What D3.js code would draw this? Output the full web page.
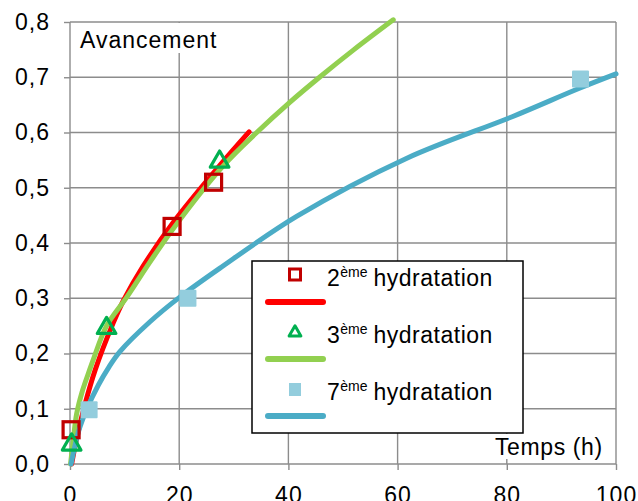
<!DOCTYPE html>
<html>
<head>
<meta charset="utf-8">
<script src="https://cdn.jsdelivr.net/npm/d3@7"></script>
<style>
  body { margin: 0; background: #fff; }
  text { font-family: "Liberation Sans", Arial, sans-serif; fill: #000; }
</style>
</head>
<body>
<div id="chart"></div>
<script>
const width = 638,
  height = 501,
  margin = { left: 70, right: 22, top: 22, bottom: 37 };

// tick values
const xTicks = [0, 20, 40, 60, 80, 100];
const yTicks = [0, 0.1, 0.2, 0.3, 0.4, 0.5, 0.6, 0.7, 0.8];

// measured points
const pts2T = [0.2, 18.7, 26.3];
const pts2V = [0.062, 0.43, 0.51];
const pts3T = [0.3, 6.7, 27.4];
const pts3V = [0.035, 0.246, 0.547];
const pts7T = [3.5, 21.6, 93.5];
const pts7V = [0.098, 0.3, 0.697];

// fitted curves
const fit2T = [0.3, 1.3, 2.8, 4.6, 7.9, 9.75, 13.4, 18.9, 27.4, 32.8];
const fit2V = [0, 0.05, 0.11, 0.17, 0.255, 0.295, 0.358, 0.437, 0.54, 0.601];
const fit3T = [0.1, 0.6, 1.2, 2.2, 3.4, 4.3, 6.7, 10.4, 14.6, 18.9, 28.1, 34.2, 40.3, 45.7, 52, 59.2];
const fit3V = [0, 0.043, 0.09, 0.13, 0.165, 0.19, 0.25, 0.302, 0.365, 0.426, 0.54, 0.6, 0.655, 0.7, 0.75, 0.804];
const fit7T = [0.2, 1.6, 3.1, 5.2, 7.1, 9.1, 14.6, 20.1, 27.4, 41.5, 61.6, 81.1, 93.3, 100];
const fit7V = [0, 0.06, 0.1, 0.143, 0.175, 0.203, 0.257, 0.302, 0.354, 0.448, 0.553, 0.629, 0.68, 0.706];

const legendNames = ["2", "3", "7"];

const xScale = d3.scaleLinear().domain([0, 100]).range([margin.left, width - margin.right]);
const yScale = d3.scaleLinear().domain([0, 0.8]).range([height - margin.bottom, margin.top]);

const gridColor = "#8c8c8c";
const fmt = (d) => d3.format(".1f")(d).replace(".", ",");

const svg = d3
  .select("#chart")
  .append("svg")
  .attr("width", width)
  .attr("height", height);

// grid
svg
  .append("g")
  .selectAll("line")
  .data(xTicks)
  .enter()
  .append("line")
  .attr("x1", (d) => xScale(d))
  .attr("x2", (d) => xScale(d))
  .attr("y1", yScale(0.8))
  .attr("y2", yScale(0))
  .attr("stroke", gridColor)
  .attr("stroke-width", 1.4);

svg
  .append("g")
  .selectAll("line")
  .data(yTicks)
  .enter()
  .append("line")
  .attr("x1", xScale(0))
  .attr("x2", xScale(100))
  .attr("y1", (d) => yScale(d))
  .attr("y2", (d) => yScale(d))
  .attr("stroke", gridColor)
  .attr("stroke-width", 1.4);

// axes
const xAxis = svg
  .append("g")
  .attr("transform", `translate(0,${yScale(0)})`)
  .call(d3.axisBottom(xScale).tickValues(xTicks).tickSize(6).tickSizeOuter(0).tickPadding(17));

const yAxis = svg
  .append("g")
  .attr("transform", `translate(${xScale(0)},0)`)
  .call(d3.axisLeft(yScale).tickValues(yTicks).tickSize(6).tickSizeOuter(0).tickPadding(14).tickFormat(fmt));

[xAxis, yAxis].forEach((ax) => {
  ax.select(".domain").remove();
  ax.selectAll("line").attr("stroke", gridColor).attr("stroke-width", 1.4);
  ax.selectAll("text")
    .attr("font-size", 23)
    .attr("letter-spacing", "1px")
    .attr("font-family", null)
    .attr("fill", "#000");
});

// axis titles on white boxes
svg.append("rect").attr("x", 75).attr("y", 23).attr("width", 146).attr("height", 30).attr("fill", "#fff");
svg
  .append("text")
  .attr("x", 80)
  .attr("y", 47.5)
  .attr("font-size", 23)
  .attr("letter-spacing", "1px")
  .text("Avancement");

svg.append("rect").attr("x", 490).attr("y", 434).attr("width", 120).attr("height", 25).attr("fill", "#fff");
svg
  .append("text")
  .attr("x", 495)
  .attr("y", 455)
  .attr("font-size", 23)
  .attr("letter-spacing", "0.6px")
  .text("Temps (h)");

// curves
const line = d3
  .line()
  .x((d) => xScale(d[0]))
  .y((d) => yScale(d[1]))
  .curve(d3.curveCatmullRom.alpha(0.5));

const curves = [
  { pts: d3.zip(fit2T, fit2V), color: "#ff0000" },
  { pts: d3.zip(fit3T, fit3V), color: "#92d050" },
  { pts: d3.zip(fit7T, fit7V), color: "#4bacc6" },
];

svg
  .append("g")
  .selectAll("path")
  .data(curves)
  .enter()
  .append("path")
  .attr("d", (d) => line(d.pts))
  .attr("fill", "none")
  .attr("stroke", (d) => d.color)
  .attr("stroke-width", 5)
  .attr("stroke-linecap", "round");

// markers
svg
  .append("g")
  .selectAll("rect")
  .data(d3.zip(pts2T, pts2V))
  .enter()
  .append("rect")
  .attr("x", (d) => xScale(d[0]) - 8)
  .attr("y", (d) => yScale(d[1]) - 8)
  .attr("width", 16)
  .attr("height", 16)
  .attr("fill", "none")
  .attr("stroke", "#c00000")
  .attr("stroke-width", 3.2);

const tri = d3.symbol().type(d3.symbolTriangle).size(150);
svg
  .append("g")
  .selectAll("path")
  .data(d3.zip(pts3T, pts3V))
  .enter()
  .append("path")
  .attr("transform", (d) => `translate(${xScale(d[0])},${yScale(d[1])})`)
  .attr("d", tri)
  .attr("fill", "none")
  .attr("stroke", "#00b050")
  .attr("stroke-width", 3.2)
  .attr("stroke-linejoin", "round");

svg
  .append("g")
  .selectAll("rect")
  .data(d3.zip(pts7T, pts7V))
  .enter()
  .append("rect")
  .attr("x", (d) => xScale(d[0]) - 8.5)
  .attr("y", (d) => yScale(d[1]) - 8.5)
  .attr("width", 17)
  .attr("height", 17)
  .attr("rx", 1)
  .attr("fill", "#93cddd");

// legend
const legend = svg.append("g").attr("transform", "translate(252,261)");
legend
  .append("rect")
  .attr("width", 271)
  .attr("height", 172)
  .attr("fill", "#fff")
  .attr("stroke", "#000")
  .attr("stroke-width", 1.5);

const rowH = 57;
const rows = legend
  .selectAll(".row")
  .data(legendNames)
  .enter()
  .append("g")
  .attr("class", "row")
  .attr("transform", (d, i) => `translate(0,${i * rowH})`);

rows
  .append("line")
  .attr("x1", 16)
  .attr("x2", 71)
  .attr("y1", 41)
  .attr("y2", 41)
  .attr("stroke", (d, i) => curves[i].color)
  .attr("stroke-width", 6)
  .attr("stroke-linecap", "round");

rows.each(function (d, i) {
  const g = d3.select(this);
  if (i === 0) {
    g.append("rect").attr("x", 37.5).attr("y", 8).attr("width", 11).attr("height", 11)
      .attr("fill", "none").attr("stroke", "#c00000").attr("stroke-width", 3);
  } else if (i === 1) {
    g.append("path").attr("transform", "translate(43,14.5)")
      .attr("d", d3.symbol().type(d3.symbolTriangle).size(60))
      .attr("fill", "none").attr("stroke", "#00b050").attr("stroke-width", 3).attr("stroke-linejoin", "round");
  } else {
    g.append("rect").attr("x", 37).attr("y", 8).attr("width", 12).attr("height", 13).attr("fill", "#93cddd");
  }
});

const label = rows
  .append("text")
  .attr("x", 75)
  .attr("y", 25)
  .attr("font-size", 23)
  .attr("letter-spacing", "0.5px");
label.append("tspan").text((d) => d);
label
  .append("tspan")
  .attr("font-size", 14)
  .attr("dy", -9)
  .attr("letter-spacing", "0px")
  .text("ème");
label
  .append("tspan")
  .attr("dy", 9)
  .attr("dx", 6)
  .text("hydratation");
</script>
</body>
</html>
